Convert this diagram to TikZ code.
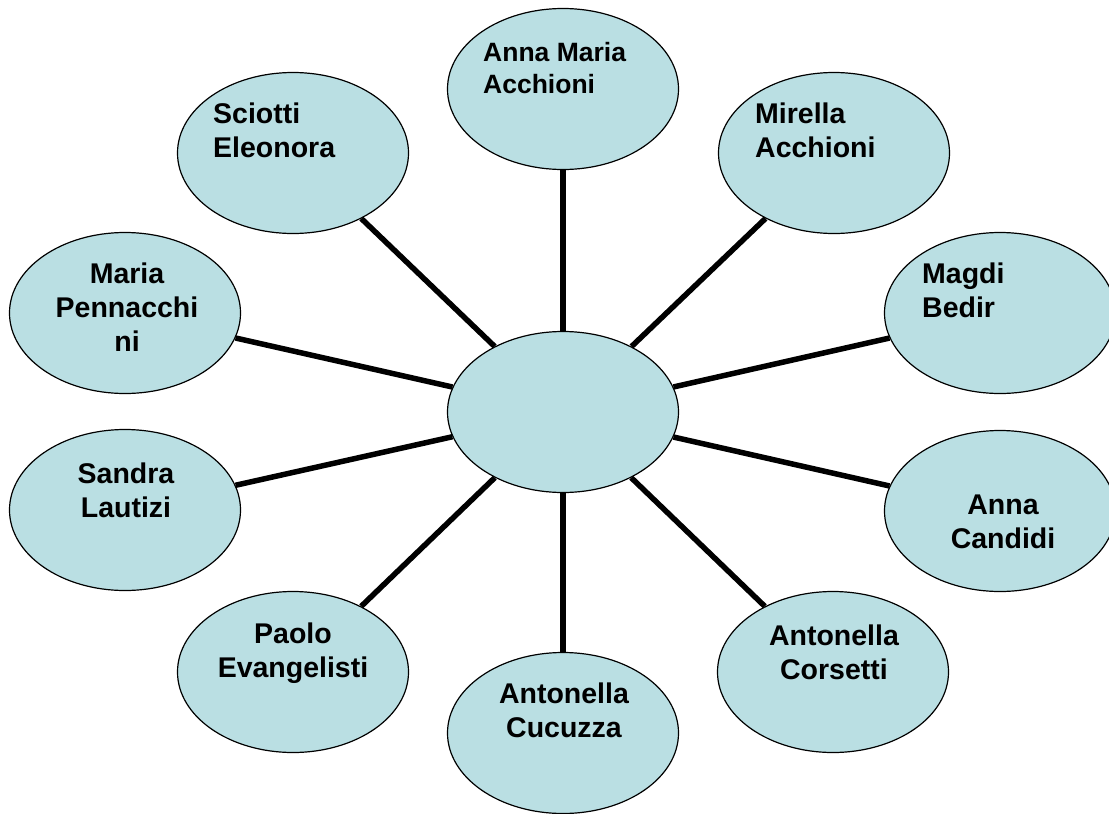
\documentclass[tikz,border=0pt]{standalone}
\usepackage{fontspec}
\setmainfont{Liberation Sans}
\usetikzlibrary{shapes.geometric}
\definecolor{ovalblue}{RGB}{186,223,227}
\tikzstyle{person} = [ellipse, draw, line width=1.2pt, fill=ovalblue, minimum width=231pt, minimum height=161pt]
\tikzstyle{nametext} = [inner sep=0pt, font=\bfseries\fontsize{28.5}{34}\selectfont]
\tikzstyle{spoke} = [line width=5.5pt]

\begin{document}
\begin{tikzpicture}[x=1pt, y=-1pt]
    \useasboundingbox (0,0) rectangle (1109,814);

    \node [person] at (563,412) (hub) {};
    \node [person] at (563,89) (acchionia) {};
    \node [person] at (834,153) (acchionim) {};
    \node [person] at (1000,313) (bedir) {};
    \node [person] at (1000,511) (candidi) {};
    \node [person] at (833,672) (corsetti) {};
    \node [person] at (563,733) (cucuzza) {};
    \node [person] at (293,672) (evangelisti) {};
    \node [person] at (125,510) (lautizi) {};
    \node [person] at (125,313) (pennacchini) {};
    \node [person] at (293,153) (sciotti) {};

    \node [nametext, anchor=north west, align=left, font=\bfseries\fontsize{26.5}{32}\selectfont] at (483,42) (tacchionia) {Anna Maria\\Acchioni};
    \node [nametext, anchor=north west, align=left] at (755,103) (tacchionim) {Mirella\\Acchioni};
    \node [nametext, anchor=north west, align=left] at (922,263) (tbedir) {Magdi\\Bedir};
    \node [nametext, anchor=north, align=center] at (1003,495) (tcandidi) {Anna\\Candidi};
    \node [nametext, anchor=north, align=center] at (834,625) (tcorsetti) {Antonella\\Corsetti};
    \node [nametext, anchor=north, align=center] at (564,683) (tcucuzza) {Antonella\\Cucuzza};
    \node [nametext, anchor=north, align=center] at (293,623) (tevangelisti) {Paolo\\Evangelisti};
    \node [nametext, anchor=north, align=center] at (126,463) (tlautizi) {Sandra\\Lautizi};
    \node [nametext, anchor=north, align=center] at (127,263) (tpennacchini) {Maria\\Pennacchi\\ni};
    \node [nametext, anchor=north west, align=left] at (213,103) (tsciotti) {Sciotti\\Eleonora};

    \foreach \p in {acchionia, acchionim, bedir, candidi, corsetti, cucuzza, evangelisti, lautizi, pennacchini, sciotti}
        \draw [spoke] (hub) -- (\p);
\end{tikzpicture}
\end{document}
